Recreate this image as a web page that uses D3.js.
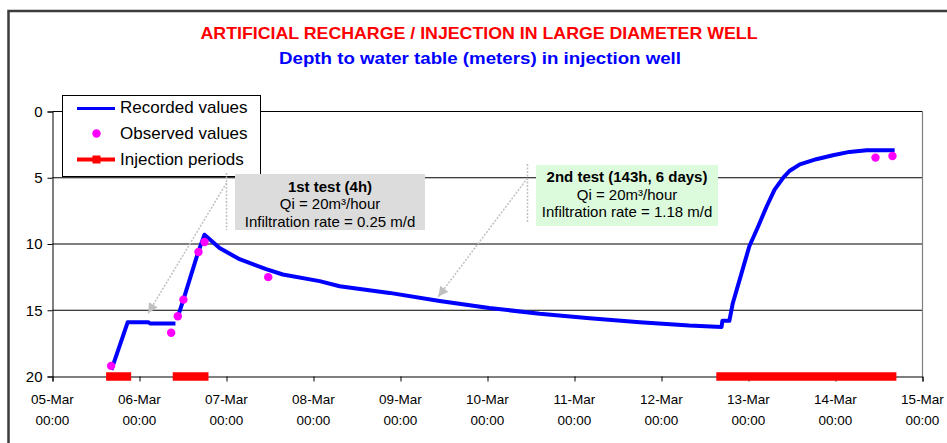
<!DOCTYPE html>
<html><head><meta charset="utf-8">
<script src="https://cdn.jsdelivr.net/npm/d3@7"></script>
<style>
body{margin:0;background:#fff;}
svg{display:block;font-family:"Liberation Sans",Arial,sans-serif;}
</style>
</head><body>
<svg id="chart" width="947" height="443"></svg>
<script>
// ---------------- DATA ----------------
const recordedTime = [
  "2008-03-05 16:15","2008-03-05 20:45","2008-03-06 02:24","2008-03-06 02:54","2008-03-06 09:55",
  null,
  "2008-03-06 10:34","2008-03-06 12:07","2008-03-06 16:05","2008-03-06 17:56","2008-03-06 22:05",
  "2008-03-07 03:36","2008-03-07 10:56","2008-03-07 15:32","2008-03-08 01:41","2008-03-08 07:12",
  "2008-03-08 20:59","2008-03-09 10:48","2008-03-10 00:29","2008-03-10 14:24","2008-03-11 04:12",
  "2008-03-11 18:00","2008-03-12 07:41","2008-03-12 16:34","2008-03-12 16:48","2008-03-12 18:43",
  "2008-03-12 19:41","2008-03-12 22:05","2008-03-13 00:14","2008-03-13 02:38","2008-03-13 05:02",
  "2008-03-13 07:12","2008-03-13 09:36","2008-03-13 11:17","2008-03-13 14:10","2008-03-13 18:43",
  "2008-03-13 23:17","2008-03-14 03:50","2008-03-14 08:38","2008-03-14 16:19"
];
const recordedDepth = [
  19.5, 15.9, 15.9, 16.0, 16.0,
  null,
  15.5, 14.2, 10.7, 9.3, 10.3,
  11.15, 11.9, 12.3, 12.8, 13.19,
  13.69, 14.3, 14.83, 15.26, 15.6,
  15.9, 16.16, 16.26, 15.8, 15.8,
  14.45, 12.2, 10.17, 8.7, 7.15,
  5.9, 4.99, 4.49, 3.99, 3.6,
  3.3, 3.05, 2.93, 2.93
];
const observedTime = [
  "2008-03-05 16:10","2008-03-06 08:44","2008-03-06 10:34","2008-03-06 12:07",
  "2008-03-06 16:16","2008-03-06 17:56","2008-03-07 11:31","2008-03-14 11:02","2008-03-14 15:43"
];
const observedDepth = [19.2, 16.7, 15.45, 14.2, 10.6, 9.85, 12.5, 3.48, 3.36];
const injectionStart = ["2008-03-05 14:47","2008-03-06 09:10","2008-03-12 15:07"];
const injectionEnd   = ["2008-03-05 21:42","2008-03-06 19:02","2008-03-14 16:48"];
const yTicks = [0, 5, 10, 15, 20];
const xTickDates = [
  "2008-03-05 00:00","2008-03-06 00:00","2008-03-07 00:00","2008-03-08 00:00","2008-03-09 00:00",
  "2008-03-10 00:00","2008-03-11 00:00","2008-03-12 00:00","2008-03-13 00:00","2008-03-14 00:00",
  "2008-03-15 00:00"
];
const titleText = "ARTIFICIAL RECHARGE / INJECTION IN LARGE DIAMETER WELL";
const subtitleText = "Depth to water table (meters) in injection well";
const legendLabels = ["Recorded values", "Observed values", "Injection periods"];
const test1Lines = ["1st test (4h)", "Qi = 20m³/hour", "Infiltration rate = 0.25 m/d"];
const test2Lines = ["2nd test (143h, 6 days)", "Qi = 20m³/hour", "Infiltration rate = 1.18 m/d"];
const arrowTipTime = ["2008-03-06 02:23", "2008-03-09 10:25"];
const arrowTipDepth = [15.23, 13.98];

// ---------------- SETUP ----------------
const parse = d3.timeParse("%Y-%m-%d %H:%M");
const svg = d3.select("#chart");
const x = d3.scaleTime().domain([parse(xTickDates[0]), parse(xTickDates[xTickDates.length-1])]).range([52.5, 922.5]);
const y = d3.scaleLinear().domain([0, 20]).range([111.5, 376.5]);

// outer frame
svg.append("rect").attr("x", 8.5).attr("y", 11).attr("width", 1000).attr("height", 1000)
  .attr("fill", "none").attr("stroke", "#3c3c3c").attr("stroke-width", 2.5);

// titles
svg.append("text").attr("x", 479).attr("y", 39).attr("text-anchor", "middle")
  .attr("font-size", 16.5).attr("font-weight", "bold").attr("fill", "#ff0000")
  .attr("textLength", 557).attr("lengthAdjust", "spacingAndGlyphs").text(titleText);
svg.append("text").attr("x", 480).attr("y", 63.5).attr("text-anchor", "middle")
  .attr("font-size", 16.5).attr("font-weight", "bold").attr("fill", "#0000ff")
  .attr("textLength", 402).attr("lengthAdjust", "spacingAndGlyphs").text(subtitleText);

// gridlines
svg.append("g").selectAll("line").data(yTicks.slice(0, -1)).join("line")
  .attr("x1", x.range()[0]).attr("x2", x.range()[1])
  .attr("y1", d => y(d)).attr("y2", d => y(d))
  .attr("stroke", "#000").attr("stroke-width", 1);
// right plot border
svg.append("line").attr("x1", x.range()[1]).attr("x2", x.range()[1])
  .attr("y1", y(0)).attr("y2", y(20)).attr("stroke", "#808080").attr("stroke-width", 1.2);

// y axis
const yAxis = svg.append("g").attr("transform", `translate(${x.range()[0]},0)`)
  .call(d3.axisLeft(y).tickValues(yTicks).tickSize(5).tickPadding(5).tickFormat(d3.format("d")));
yAxis.select(".domain").attr("stroke", "#000");
yAxis.selectAll("text").attr("font-size", 15).attr("font-family", "Liberation Sans, Arial, sans-serif").attr("fill", "#000");

// x axis
const xAxis = svg.append("g").attr("transform", `translate(0,${y(20)})`)
  .call(d3.axisBottom(x).tickValues(xTickDates.map(parse)).tickSize(5).tickFormat(""));
xAxis.select(".domain").attr("stroke", "#000");
const fmtDay = d3.timeFormat("%d-%b"), fmtHour = d3.timeFormat("%H:%M");
const xLab = svg.append("g").attr("font-size", 13.5).attr("fill", "#000").attr("text-anchor", "middle");
xTickDates.map(parse).forEach(d => {
  const t = xLab.append("text").attr("x", x(d));
  t.append("tspan").attr("x", x(d)).attr("y", 404).text(fmtDay(d));
  t.append("tspan").attr("x", x(d)).attr("y", 425).text(fmtHour(d));
});

// recorded line
const recData = recordedTime.map((t, i) => ({t: t ? parse(t) : null, v: recordedDepth[i]}));
svg.append("path").datum(recData)
  .attr("d", d3.line().defined(d => d.v != null).x(d => x(d.t)).y(d => y(d.v)))
  .attr("fill", "none").attr("stroke", "#0000ff").attr("stroke-width", 4)
  .attr("stroke-linejoin", "round");

// observed dots
svg.append("g").selectAll("circle").data(observedTime.map((t, i) => ({t: parse(t), v: observedDepth[i]})))
  .join("circle").attr("cx", d => x(d.t)).attr("cy", d => y(d.v)).attr("r", 4.2).attr("fill", "#ff00ff");

// injection periods
svg.append("g").selectAll("line").data(injectionStart.map((s, i) => ({s: parse(s), e: parse(injectionEnd[i])})))
  .join("line").attr("x1", d => x(d.s)).attr("x2", d => x(d.e)).attr("y1", y(20)).attr("y2", y(20))
  .attr("stroke", "#ff0000").attr("stroke-width", 8.5);

// legend
const lg = svg.append("g");
lg.append("rect").attr("x", 62.5).attr("y", 95.5).attr("width", 198).attr("height", 81)
  .attr("fill", "#fff").attr("stroke", "#000");
lg.append("line").attr("x1", 77).attr("x2", 115).attr("y1", 108.5).attr("y2", 108.5)
  .attr("stroke", "#0000ff").attr("stroke-width", 3);
lg.append("circle").attr("cx", 96.5).attr("cy", 133.5).attr("r", 4.2).attr("fill", "#ff00ff");
lg.append("line").attr("x1", 77).attr("x2", 115).attr("y1", 159.5).attr("y2", 159.5)
  .attr("stroke", "#ff0000").attr("stroke-width", 4);
lg.append("rect").attr("x", 92.5).attr("y", 155.5).attr("width", 8).attr("height", 8).attr("fill", "#ff0000");
legendLabels.forEach((l, i) => {
  lg.append("text").attr("x", 120).attr("y", [113, 138.5, 165][i]).attr("font-size", 17).attr("fill", "#000").text(l);
});

// annotations
svg.append("defs").append("marker").attr("id", "ah").attr("viewBox", "0 0 10 10")
  .attr("refX", 10).attr("refY", 5).attr("markerWidth", 11).attr("markerHeight", 10)
  .attr("markerUnits", "userSpaceOnUse").attr("orient", "auto")
  .append("path").attr("d", "M0,0L10,5L0,10z").attr("fill", "#c0c0c0");

function callout(bx, by, bw, bh, fill, lines, lineYs, vx, vy1, vy2, sy, tipIdx) {
  const g = svg.append("g");
  g.append("line").attr("x1", vx).attr("x2", vx).attr("y1", vy1).attr("y2", vy2)
    .attr("stroke", "#c0c0c0").attr("stroke-width", 1.5).attr("stroke-dasharray", "2,1.5");
  g.append("line").attr("x1", vx).attr("y1", sy)
    .attr("x2", x(parse(arrowTipTime[tipIdx]))).attr("y2", y(arrowTipDepth[tipIdx]))
    .attr("stroke", "#c0c0c0").attr("stroke-width", 1.5).attr("stroke-dasharray", "2,1.5")
    .attr("marker-end", "url(#ah)");
  g.append("rect").attr("x", bx).attr("y", by).attr("width", bw).attr("height", bh).attr("fill", fill);
  lines.forEach((l, i) => {
    g.append("text").attr("x", bx + bw / 2).attr("y", lineYs[i]).attr("text-anchor", "middle")
      .attr("font-size", 15).attr("font-weight", i === 0 ? "bold" : "normal").attr("fill", "#000").text(l);
  });
}
callout(235, 174, 190, 56, "#dcdcdc", test1Lines, [191.5, 209, 226.5], 226.5, 173, 230, 183, 0);
callout(536, 165, 182, 61, "#dcfadc", test2Lines, [182, 199.5, 217], 527.5, 164, 223, 178, 1);
</script>
</body></html>
